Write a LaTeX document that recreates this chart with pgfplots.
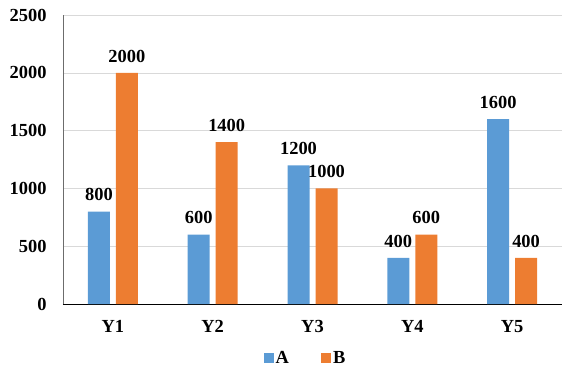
\documentclass[border=0pt]{standalone}
\usepackage{pgfplots}
\pgfplotsset{compat=1.18}
\usepackage{fontspec}
\setmainfont{Liberation Serif}
\definecolor{cA}{HTML}{5B9BD5}
\definecolor{cB}{HTML}{ED7D31}
\definecolor{gridc}{HTML}{D9D9D9}
\newcommand{\lf}{\fontsize{18.5}{20}\selectfont\bfseries}
\begin{document}
\begin{tikzpicture}
\path[use as bounding box] (-63bp,-69bp) rectangle (507bp,304bp);
\begin{axis}[
  at={(0,0)}, anchor=south west,
  scale only axis, width=499bp, height=289bp,
  xmin=-0.5, xmax=4.5, ymin=0, ymax=2500,
  ytick={0,500,...,2500},
  xtick={0,1,2,3,4}, xticklabels={Y1,Y2,Y3,Y4,Y5},
  ybar=6bp, bar width=22bp,
  axis x line*=bottom, axis y line*=left,
  x axis line style={black, line width=0.8pt, -},
  y axis line style={gray!85!black, line width=0.8pt, -},
  ymajorgrids, grid style={gridc, line width=0.6pt},
  major tick length=0pt,
  tick label style={font=\lf},
  /pgf/number format/assume math mode=true,
  /pgf/number format/1000 sep={},
  yticklabel style={xshift=-13bp},
  xticklabel style={yshift=-13bp},
  nodes near coords,
  every node near coord/.append style={font=\lf, /pgf/number format/assume math mode=true, /pgf/number format/1000 sep={}, yshift=7bp},
  legend style={at={(0.5,-69bp)}, anchor=south, yshift=4bp, xshift=-7bp, draw=none, legend columns=2, font=\lf, /tikz/every even column/.append style={column sep=30bp}},
  legend image code/.code={\fill[#1] (0bp,-5bp) rectangle (10bp,5bp);},
  clip=false,
]
\addplot[fill=cA, draw=none] coordinates {(0,800) (1,600) (2,1200) (3,400) (4,1600)};
\addplot[fill=cB, draw=none] coordinates {(0,2000) (1,1400) (2,1000) (3,600) (4,400)};
\legend{A,B}
\end{axis}
\end{tikzpicture}
\end{document}
